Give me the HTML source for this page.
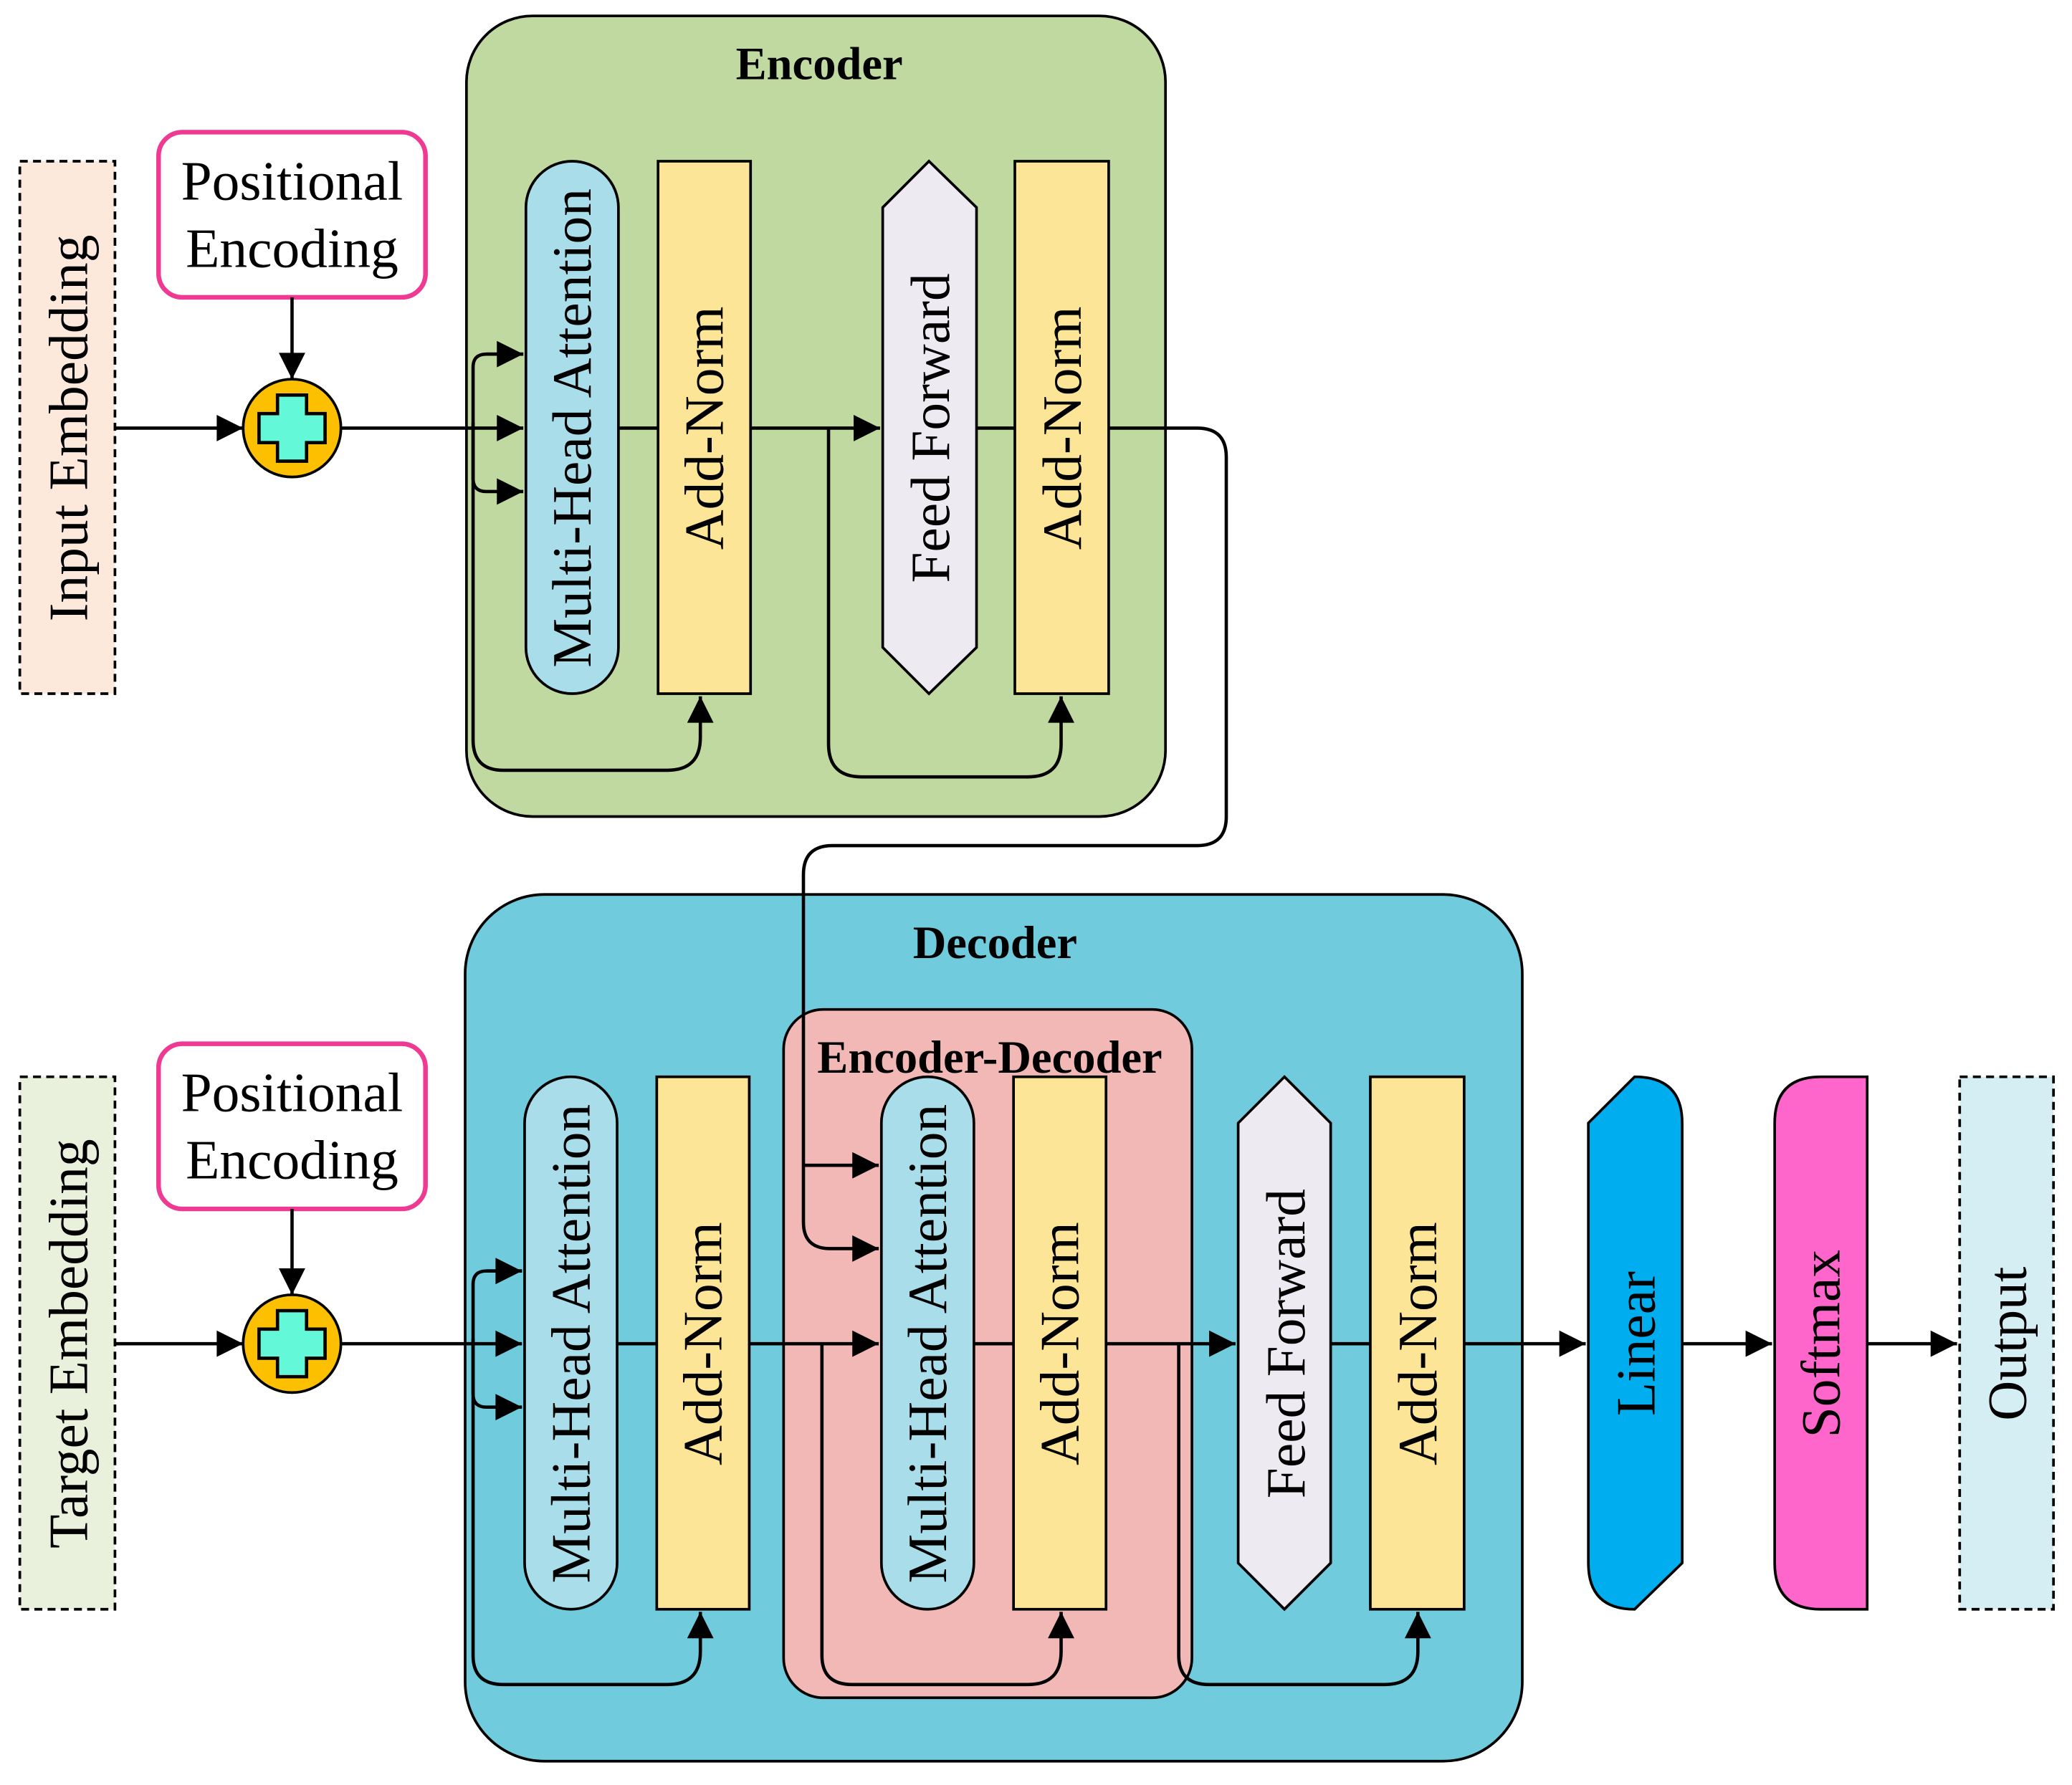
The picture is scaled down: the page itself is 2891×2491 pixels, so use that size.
<!DOCTYPE html>
<html><head><meta charset="utf-8"><style>
html,body{margin:0;padding:0;background:#fff}
svg{display:block}
text{font-family:"Liberation Serif",serif;fill:#000}
</style></head><body>
<svg width="2891" height="2491" viewBox="0 0 1568 1351" xmlns="http://www.w3.org/2000/svg">
<defs>
<marker id="b" viewBox="0 0 10 10" refX="10" refY="5" markerWidth="22" markerHeight="20" markerUnits="userSpaceOnUse" orient="auto">
<path d="M0,0 L10,5 L0,10 z" fill="#000"/></marker>
<g id="plus"><circle r="37" fill="#fcc000" stroke="#000" stroke-width="2"/>
<path d="M-11,-25 H11 V-11 H25 V11 H11 V25 H-11 V11 H-25 V-11 H-11 Z" fill="#62f8d8" stroke="#000" stroke-width="2.5"/></g>
</defs>
<g stroke="#000" stroke-width="2">
<rect x="353" y="12" width="529" height="606" rx="50" fill="#c0d9a0"/>
<rect x="15" y="122" width="72" height="403" fill="#fde9dc" stroke-dasharray="6,4"/>
<rect x="120" y="100" width="202" height="125" rx="18" fill="#fff" stroke="#ee3a92" stroke-width="3.5"/>
<rect x="398" y="122" width="70" height="403" rx="35" fill="#a8dde9"/>
<rect x="498" y="122" width="70" height="403" fill="#fde598"/>
<path d="M703,122 L739,157 L739,490 L703,525 L668,490 L668,157 Z" fill="#eeeaf2"/>
<rect x="768" y="122" width="71" height="403" fill="#fde598"/>
<rect x="352" y="677" width="800" height="656" rx="60" fill="#70cbdd"/>
<rect x="593" y="764" width="309" height="521" rx="30" fill="#f2b8b5"/>
<rect x="15" y="815" width="72" height="403" fill="#e9f0dc" stroke-dasharray="6,4"/>
<rect x="120" y="790" width="202" height="125" rx="18" fill="#fff" stroke="#ee3a92" stroke-width="3.5"/>
<rect x="397" y="815" width="70" height="403" rx="35" fill="#a8dde9"/>
<rect x="497" y="815" width="70" height="403" fill="#fde598"/>
<rect x="667" y="815" width="70" height="403" rx="35" fill="#a8dde9"/>
<rect x="767" y="815" width="70" height="403" fill="#fde598"/>
<path d="M972,815 L1007,850 L1007,1183 L972,1218 L937,1183 L937,850 Z" fill="#eeeaf2"/>
<rect x="1037" y="815" width="71" height="403" fill="#fde598"/>
<path d="M1237,815 Q1273,815 1273,850 L1273,1183 L1237,1218 Q1202,1218 1202,1183 L1202,850 Z" fill="#00aeef"/>
<path d="M1378,815 L1413,815 L1413,1218 L1378,1218 Q1343,1218 1343,1183 L1343,850 Q1343,815 1378,815 Z" fill="#ff66cc"/>
<rect x="1483" y="815" width="71" height="403" fill="#d5eef4" stroke-dasharray="6,4"/>
</g>
<use href="#plus" x="221" y="324"/>
<use href="#plus" x="221" y="1017"/>
<g stroke="#000" stroke-width="2.5" fill="none">
<line x1="221" y1="225" x2="221" y2="287" marker-end="url(#b)"/>
<line x1="87" y1="324" x2="184" y2="324" marker-end="url(#b)"/>
<line x1="258" y1="324" x2="396" y2="324" marker-end="url(#b)"/>
<path d="M396,268 H368 Q358,268 358,278 V362 Q358,372 368,372 H396" marker-end="url(#b)"/>
<path d="M368,268 H396" marker-end="url(#b)"/>
<path d="M358,320 V560 Q358,583 381,583 H505 Q530,583 530,558 V527" marker-end="url(#b)"/>
<line x1="468" y1="324" x2="498" y2="324"/>
<line x1="568" y1="324" x2="666" y2="324" marker-end="url(#b)"/>
<path d="M627,324 V563 Q627,588 652,588 H778 Q803,588 803,563 V527" marker-end="url(#b)"/>
<line x1="739" y1="324" x2="768" y2="324"/>
<path d="M839,324 H906 Q928,324 928,346 V618 Q928,640 906,640 H630 Q608,640 608,662 V925 Q608,945 628,945 H665" marker-end="url(#b)"/>
<path d="M608,882 H665" marker-end="url(#b)"/>
<line x1="221" y1="915" x2="221" y2="980" marker-end="url(#b)"/>
<line x1="87" y1="1017" x2="184" y2="1017" marker-end="url(#b)"/>
<line x1="258" y1="1017" x2="395" y2="1017" marker-end="url(#b)"/>
<path d="M395,962 H368 Q358,962 358,972 V1055 Q358,1065 368,1065 H395" marker-end="url(#b)"/>
<path d="M368,962 H395" marker-end="url(#b)"/>
<path d="M358,1013 V1253 Q358,1275 381,1275 H505 Q530,1275 530,1250 V1220" marker-end="url(#b)"/>
<line x1="467" y1="1017" x2="497" y2="1017"/>
<line x1="567" y1="1017" x2="665" y2="1017" marker-end="url(#b)"/>
<path d="M622,1017 V1253 Q622,1275 645,1275 H778 Q803,1275 803,1250 V1220" marker-end="url(#b)"/>
<line x1="737" y1="1017" x2="767" y2="1017"/>
<line x1="837" y1="1017" x2="935" y2="1017" marker-end="url(#b)"/>
<path d="M892,1017 V1253 Q892,1275 915,1275 H1048 Q1073,1275 1073,1250 V1220" marker-end="url(#b)"/>
<line x1="1007" y1="1017" x2="1037" y2="1017"/>
<line x1="1108" y1="1017" x2="1200" y2="1017" marker-end="url(#b)"/>
<line x1="1273" y1="1017" x2="1341" y2="1017" marker-end="url(#b)"/>
<line x1="1413" y1="1017" x2="1481" y2="1017" marker-end="url(#b)"/>
</g>
<text x="620" y="60" font-size="35" font-weight="bold" text-anchor="middle">Encoder</text>
<text x="753" y="725" font-size="35" font-weight="bold" text-anchor="middle">Decoder</text>
<text x="749" y="812" font-size="35" font-weight="bold" text-anchor="middle">Encoder-Decoder</text>
<g font-size="42" text-anchor="middle">
<text x="221" y="151">Positional</text><text x="221" y="202">Encoding</text>
<text x="221" y="841">Positional</text><text x="221" y="892">Encoding</text>
</g>
<g font-size="42" text-anchor="middle">
<text transform="translate(66,324) rotate(-90)">Input Embedding</text>
<text transform="translate(447,324) rotate(-90)">Multi-Head Attention</text>
<text transform="translate(547,324) rotate(-90)">Add-Norm</text>
<text transform="translate(718,324) rotate(-90)">Feed Forward</text>
<text transform="translate(818,324) rotate(-90)">Add-Norm</text>
<text transform="translate(66,1017) rotate(-90)">Target Embedding</text>
<text transform="translate(446,1017) rotate(-90)">Multi-Head Attention</text>
<text transform="translate(546,1017) rotate(-90)">Add-Norm</text>
<text transform="translate(716,1017) rotate(-90)">Multi-Head Attention</text>
<text transform="translate(816,1017) rotate(-90)">Add-Norm</text>
<text transform="translate(987,1017) rotate(-90)">Feed Forward</text>
<text transform="translate(1087,1017) rotate(-90)">Add-Norm</text>
<text transform="translate(1252,1017) rotate(-90)">Linear</text>
<text transform="translate(1392,1017) rotate(-90)">Softmax</text>
<text transform="translate(1533,1017) rotate(-90)">Output</text>
</g>
</svg>
</body></html>
